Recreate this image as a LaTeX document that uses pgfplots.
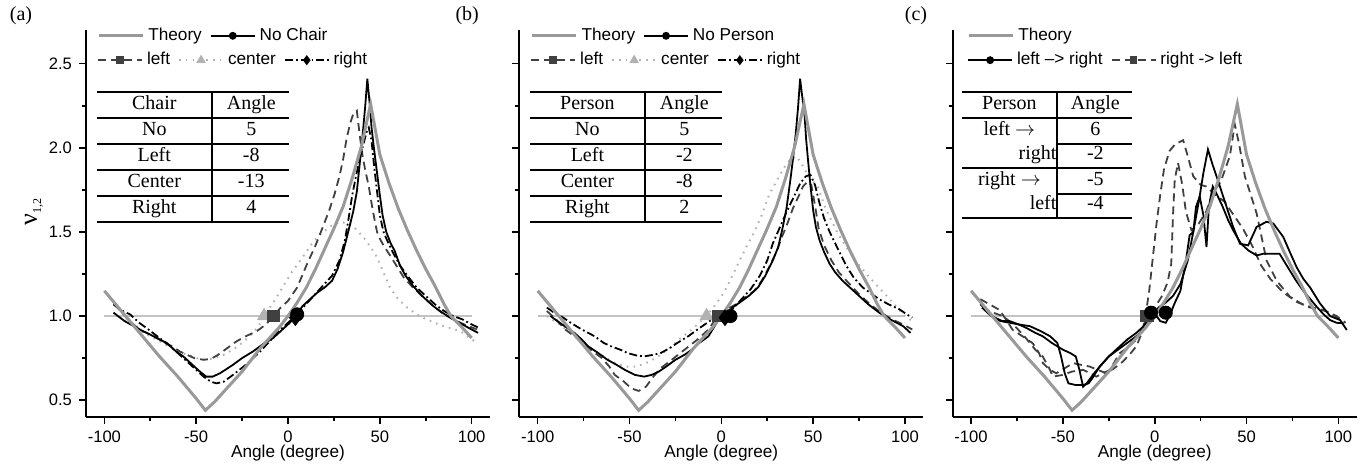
\documentclass[border=0pt]{standalone}
\usepackage{fontspec}
\setmainfont{Liberation Sans}
\newfontfamily\serif{Liberation Serif}
\usepackage{array}
\usepackage{pgfplots}
\pgfplotsset{compat=1.18}

\definecolor{theo}{RGB}{153,153,153}
\definecolor{refl}{RGB}{195,195,195}
\definecolor{dgray}{RGB}{64,64,64}
\definecolor{lgray}{RGB}{178,178,178}

\tikzset{
  sTheo/.style={theo, line width=1.5pt},
  sNo/.style={black, line width=0.9pt},
  sLeft/.style={dgray, line width=0.9pt, dash pattern=on 4pt off 2.5pt},
  sCent/.style={lgray, line width=1pt, dash pattern=on 0.8pt off 2.6pt},
  sRight/.style={black, line width=0.9pt, dash pattern=on 4pt off 1.5pt on 0.9pt off 1.5pt},
}

\pgfplotsset{
  panel/.style={
    width=202pt, height=193.5pt, scale only axis, anchor=south west, clip=false,
    xmin=-110, xmax=110, ymin=0.4, ymax=2.7,
    axis lines=left, axis line style={-, line width=0.9pt},
    xtick={-100,-50,0,50,100}, ytick={0.5,1,1.5,2,2.5},
    minor xtick={-75,-25,25,75}, minor ytick={0.75,1.25,1.75,2.25},
    tick align=outside, major tick length=3.5pt, minor tick length=2pt,
    every tick/.style={black, line width=0.8pt},
    /pgf/number format/assume math mode=true,
    ticklabel style={font=\fontsize{8.3}{10}\selectfont},
    yticklabel style={/pgf/number format/fixed, /pgf/number format/fixed zerofill, /pgf/number format/precision=1},
    xlabel={Angle (degree)},
    every axis x label/.style={at={(axis description cs:0.5,0)}, anchor=center, yshift=-17.9pt, font=\fontsize{8.6}{10}\selectfont},
    legend image code/.code={\draw[mark repeat=2,mark phase=2,##1] plot coordinates {(0pt,0pt) (11pt,0pt) (22pt,0pt)};},
    legend style={draw=none, fill=none, inner sep=0pt, font=\fontsize{8.6}{10}\selectfont,
      nodes={inner sep=2pt}, /tikz/every even column/.append style={column sep=2pt}},
    legend cell align=left,
  },
  ghost/.style={
    width=202pt, height=193.5pt, scale only axis, anchor=south west, hide axis,
    xmin=-110, xmax=110, ymin=0.4, ymax=2.7,
    legend image code/.code={\draw[mark repeat=2,mark phase=2,##1] plot coordinates {(0pt,0pt) (11pt,0pt) (22pt,0pt)};},
    legend style={draw=none, fill=none, inner sep=0pt, font=\fontsize{8.6}{10}\selectfont,
      nodes={inner sep=2pt}, /tikz/every even column/.append style={column sep=2pt}},
    legend cell align=left,
  },
}

\pgfplotstableread{
x y
-100 1.15
-90 1.02
-80 0.89
-70 0.76
-60 0.64
-50 0.51
-45 0.44
-40 0.49
-35 0.55
-30 0.61
-25 0.67
-20 0.74
-15 0.81
-10 0.87
-5 0.93
0 1.00
5 1.08
10 1.17
15 1.28
20 1.40
25 1.52
30 1.65
35 1.82
40 2.01
45 2.26
50 1.96
55 1.79
60 1.64
65 1.51
70 1.39
75 1.28
80 1.18
85 1.07
88.7 1.00
95 0.93
100 0.87
}\theory

\pgfplotstableread{
x y
-100 1
100 1
}\refline

\newcommand\tabfont{\serif\fontsize{10}{12}\selectfont\setlength\arrayrulewidth{1pt}\setlength\tabcolsep{0pt}}

\begin{document}
\begin{tikzpicture}
\useasboundingbox (0,0) rectangle (684pt,232.5pt);

% ---------------- (a) ----------------
\begin{axis}[panel, at={(43pt,24pt)},
  ylabel={\serif\fontsize{13}{14}\selectfont ν\raisebox{-0.35ex}{\fontsize{6}{7}\selectfont 1,2}},
  every axis y label/.style={at={(axis description cs:-0.129,0.53)}, anchor=center, rotate=90},
  legend columns=2,
  legend style={at={(axis description cs:0.027,0.985)}, anchor=west}]
\addplot[refl, line width=1pt, forget plot] table {\refline};
\addplot[sCent, forget plot] table {
x y
-95 1.02
-90 0.98
-85 0.95
-80 0.91
-75 0.88
-70 0.85
-65 0.82
-60 0.79
-55 0.77
-50 0.75
-45 0.74
-40 0.75
-35 0.77
-30 0.8
-25 0.84
-20 0.89
-16 0.94
-13 1.0
-8 1.08
-3 1.17
2 1.26
8 1.35
13 1.43
18 1.49
24 1.54
29 1.56
35 1.54
41 1.47
45 1.41
48.5 1.35
52 1.26
55.5 1.17
60 1.1
65 1.05
70 1.01
75.5 0.98
82 0.95
88 0.93
94 0.91
99 0.87
103 0.84
};
\addplot[sLeft, forget plot] table {
x y
-95 1.07
-91 1.03
-87 0.98
-83 0.94
-79 0.91
-75 0.89
-71 0.87
-67 0.84
-63 0.82
-59 0.79
-55 0.77
-51 0.75
-46 0.74
-42 0.745
-38 0.77
-33 0.81
-28 0.85
-23 0.88
-17 0.91
-12 0.95
-8 1.0
-4 1.05
0 1.09
5 1.17
10 1.3
15 1.42
19 1.53
22.5 1.63
25.5 1.73
28 1.83
30 1.93
32 2.06
34 2.15
35.5 2.2
37.5 2.22
39 2.08
40.5 1.96
42 1.87
44 1.77
45.5 1.67
47 1.58
48.5 1.5
50 1.46
52 1.42
55 1.37
59 1.3
63 1.23
68 1.17
74 1.11
79 1.06
85 1.01
90 0.98
96 0.95
103 0.92
};
\addplot[sRight, forget plot] table {
x y
-95 1.07
-90 1.03
-86 1.01
-81 0.96
-76 0.92
-70 0.87
-64 0.82
-59 0.77
-54 0.72
-50 0.68
-46 0.64
-42 0.61
-39 0.6
-35 0.61
-30 0.65
-23 0.71
-16 0.78
-10 0.85
-5 0.91
0 0.96
4 1.0
9 1.06
14 1.12
19 1.18
24 1.24
28 1.33
31 1.45
33 1.58
35 1.72
37 1.83
39 1.93
41 2.02
43 2.1
44 2.12
45.5 2.04
47 1.88
48.5 1.74
50 1.6
52 1.5
54 1.45
57 1.38
61 1.3
65 1.24
70 1.17
75 1.12
80 1.07
85 1.03
90 1.0
95 0.98
100 0.95
104 0.93
};
\addplot[sNo, forget plot] table {
x y
-95 1.02
-89 0.97
-84 0.94
-79 0.91
-75 0.89
-70 0.86
-66 0.84
-61 0.79
-57 0.76
-52 0.71
-48 0.67
-44.5 0.64
-41 0.64
-37 0.66
-30 0.71
-25 0.75
-19 0.79
-14 0.83
-8 0.87
-3 0.92
1 0.96
4 1.0
8 1.06
12 1.1
16 1.14
20 1.17
24 1.21
27 1.28
30 1.38
33 1.51
35.5 1.62
37.5 1.74
39 1.9
40.5 2.06
42 2.24
43.2 2.41
44.5 2.26
45.5 2.12
47 1.98
48.5 1.85
50 1.72
51.5 1.6
53.5 1.5
56 1.43
58 1.39
61 1.3
64 1.24
68 1.18
73 1.12
79 1.06
84 1.02
90 0.98
95 0.95
100 0.92
103.5 0.9
};
\addplot[sTheo, forget plot] table {\theory};
\addplot[only marks, mark=triangle*, mark size=3.8pt, color=lgray, forget plot] coordinates {(-13,1)};
\addplot[only marks, mark=square*, mark size=2.8pt, color=dgray, forget plot] coordinates {(-8,1)};
\addplot[only marks, mark=*, mark size=3.3pt, color=black, forget plot] coordinates {(5,1.01)};
\addplot[only marks, mark=diamond*, mark size=3.9pt, color=black, forget plot] coordinates {(4,0.99)};
\addlegendimage{sTheo}
\addlegendentry{Theory}
\addlegendimage{sNo, mark=*, mark size=1.5pt}
\addlegendentry{No Chair}
\node[anchor=north west, inner sep=0pt] at (axis description cs:0.027,0.843) {\tabfont
\begin{tabular}{w{c}{57pt}|w{c}{38pt}}
\hline
Chair & Angle\\\hline
No & 5\\\hline
Left & -8\\\hline
Center & -13\\\hline
Right & 4\\\hline
\end{tabular}};
\node[font=\serif\fontsize{10}{12}\selectfont] at (axis description cs:-0.161,1.036) {(a)};
\end{axis}
\begin{axis}[ghost, at={(43pt,24pt)}, legend columns=3,
  legend style={at={(axis description cs:0.027,0.922)}, anchor=west}]
\addlegendimage{sLeft, mark=square*, mark size=1.5pt, mark options={solid}}
\addlegendentry{left}
\addlegendimage{sCent, mark=triangle*, mark size=1.8pt, mark options={solid}}
\addlegendentry{center}
\addlegendimage{sRight, mark=diamond*, mark size=1.8pt, mark options={solid}}
\addlegendentry{right}
\end{axis}

% ---------------- (b) ----------------
\begin{axis}[panel, at={(259.65pt,24pt)}, yticklabels={},
  legend columns=2,
  legend style={at={(axis description cs:0.027,0.985)}, anchor=west}]
\addplot[refl, line width=1pt, forget plot] table {\refline};
\addplot[sCent, forget plot] table {
x y
-95 1.0
-88 0.95
-82 0.9
-76 0.85
-70 0.8
-64 0.76
-58 0.72
-52 0.7
-46 0.7
-39 0.73
-33 0.77
-27 0.82
-22 0.87
-16 0.92
-12 0.96
-8 1.0
-3 1.07
2 1.15
6 1.24
10 1.33
14 1.42
18 1.5
22 1.6
26 1.72
30 1.8
34 1.88
37.5 1.93
41 1.95
44 1.9
47 1.84
50 1.8
53 1.76
56 1.66
59 1.59
63 1.5
68 1.41
73 1.33
79 1.25
84 1.19
90 1.12
95 1.06
100 1.0
104 0.97
};
\addplot[sLeft, forget plot] table {
x y
-95 1.03
-90 0.98
-85 0.92
-80 0.88
-75 0.84
-70 0.79
-65 0.75
-61 0.7
-58 0.65
-53 0.61
-49 0.57
-45 0.555
-41 0.58
-37 0.64
-33 0.69
-27 0.74
-20 0.8
-13 0.86
-7 0.92
-2 1.0
3 1.04
8 1.07
13 1.11
18 1.15
22 1.21
26 1.29
30 1.38
33 1.47
36 1.55
39 1.64
42 1.71
44.5 1.77
47 1.8
49 1.78
51 1.66
53 1.52
56 1.42
60 1.33
64 1.26
69 1.2
75 1.13
81 1.07
87 1.02
93 0.98
99 0.95
104 0.92
};
\addplot[sRight, forget plot] table {
x y
-95 1.05
-91 1.02
-86 0.99
-82 0.96
-76 0.92
-69 0.88
-64 0.84
-60 0.82
-55 0.8
-51 0.78
-46 0.765
-42 0.76
-37 0.77
-33 0.78
-28 0.81
-24 0.84
-18 0.88
-13 0.92
-9 0.95
-5 0.98
2 1.0
6 1.04
11 1.1
16 1.16
21 1.24
25 1.33
28 1.43
32 1.53
36 1.63
40 1.72
43 1.79
46 1.83
48.5 1.84
51 1.78
53.5 1.67
56 1.58
59 1.5
63 1.41
68 1.3
72 1.23
77 1.17
82 1.13
86 1.1
91 1.07
97 1.04
101 1.01
104 0.99
};
\addplot[sNo, forget plot] table {
x y
-93 1.0
-88 0.96
-84 0.93
-80 0.9
-76 0.86
-72.5 0.82
-67 0.78
-62 0.74
-57 0.71
-52.5 0.68
-47 0.65
-42 0.64
-38 0.65
-34 0.67
-30 0.7
-25 0.74
-20 0.77
-16 0.8
-12 0.84
-7 0.88
-2 0.97
2 1.0
6 1.05
10 1.08
15 1.12
20 1.17
24 1.24
28 1.33
31 1.41
33.5 1.53
35.5 1.64
37.5 1.8
39 1.93
40.5 2.08
41.8 2.24
42.9 2.41
44 2.31
45.3 2.2
46.2 2.05
47.2 1.93
48.5 1.78
50 1.63
51.5 1.53
53.5 1.45
56 1.38
59 1.31
62 1.26
66 1.21
70 1.17
75 1.12
80 1.07
86 1.02
92 0.98
99 0.94
103 0.9
};
\addplot[sTheo, forget plot] table {\theory};
\addplot[only marks, mark=triangle*, mark size=3.8pt, color=lgray, forget plot] coordinates {(-8,1)};
\addplot[only marks, mark=square*, mark size=2.8pt, color=dgray, forget plot] coordinates {(-2,1)};
\addplot[only marks, mark=*, mark size=3.3pt, color=black, forget plot] coordinates {(5,1)};
\addplot[only marks, mark=diamond*, mark size=3.9pt, color=black, forget plot] coordinates {(2,0.99)};
\addlegendimage{sTheo}
\addlegendentry{Theory}
\addlegendimage{sNo, mark=*, mark size=1.5pt}
\addlegendentry{No Person}
\node[anchor=north west, inner sep=0pt] at (axis description cs:0.0265,0.843) {\tabfont
\begin{tabular}{w{c}{57pt}|w{c}{38pt}}
\hline
Person & Angle\\\hline
No & 5\\\hline
Left & -2\\\hline
Center & -8\\\hline
Right & 2\\\hline
\end{tabular}};
\node[font=\serif\fontsize{10}{12}\selectfont] at (axis description cs:-0.129,1.036) {(b)};
\end{axis}
\begin{axis}[ghost, at={(259.65pt,24pt)}, legend columns=3,
  legend style={at={(axis description cs:0.0265,0.922)}, anchor=west}]
\addlegendimage{sLeft, mark=square*, mark size=1.5pt, mark options={solid}}
\addlegendentry{left}
\addlegendimage{sCent, mark=triangle*, mark size=1.8pt, mark options={solid}}
\addlegendentry{center}
\addlegendimage{sRight, mark=diamond*, mark size=1.8pt, mark options={solid}}
\addlegendentry{right}
\end{axis}

% ---------------- (c) ----------------
\begin{axis}[panel, at={(476.35pt,24pt)}, yticklabels={},
  legend style={at={(axis description cs:0.035,0.985)}, anchor=west}]
\addplot[refl, line width=1pt, forget plot] table {\refline};
\addplot[sLeft, forget plot] table {
x y
-95 1.1
-90 1.07
-84.5 1.036
-81 0.98
-77.3 0.917
-72 0.88
-66.4 0.838
-63 0.78
-60.9 0.72
-57 0.68
-53.6 0.66
-49 0.69
-44.5 0.72
-40 0.71
-35.5 0.70
-31 0.68
-26.4 0.66
-22 0.69
-17.3 0.73
-13 0.78
-10 0.82
-7 0.9
-5 1.0
-3 1.15
-1 1.35
1 1.55
3 1.72
5 1.87
8 1.98
11 2.02
15.5 2.045
18 1.95
21 1.83
25 1.78
28 1.77
33 1.72
38 1.68
43 1.6
48 1.52
53 1.42
58 1.3
63 1.22
70 1.14
78 1.08
86 1.05
93 1.03
99 1.0
104 0.96
};
\addplot[sLeft, forget plot] table {
x y
-94 1.05
-88 1.02
-82.7 1.0
-77 0.95
-71 0.88
-65 0.8
-61 0.76
-57 0.68
-55.5 0.64
-50 0.65
-45 0.67
-39 0.68
-35 0.66
-31.8 0.64
-28 0.66
-24.5 0.68
-19 0.78
-15 0.81
-10 0.86
-7 0.92
-4 1.0
0 1.05
4 1.12
7 1.2
9 1.31
10 1.61
10.9 1.81
12.7 1.91
15 1.78
17 1.62
20 1.51
24 1.55
28 1.62
31.6 1.73
36 1.8
40.9 1.95
43.6 2.14
46 2.02
49.1 1.83
55.5 1.61
60.9 1.33
66.4 1.21
73.6 1.115
82.7 1.055
91.8 1.036
99 0.996
103 0.95
};
\addplot[sNo, forget plot] table {
x y
-95 1.07
-91 1.03
-87 0.99
-83 0.97
-79 0.97
-74 0.95
-70 0.93
-65 0.9
-61 0.88
-56 0.84
-50 0.8
-46 0.78
-43 0.76
-41 0.68
-39 0.58
-37 0.6
-33 0.66
-29 0.71
-25 0.76
-20 0.81
-15 0.86
-10 0.9
-6 0.94
-2 1.0
2 1.05
6 1.08
10 1.12
14 1.19
18 1.33
21 1.5
24 1.68
26.5 1.85
29 1.99
31.5 1.9
34 1.82
37 1.72
40 1.62
42.7 1.53
46.4 1.43
50.9 1.42
55.5 1.53
60.9 1.56
64.6 1.55
70 1.47
74 1.37
77.3 1.29
81 1.22
84.6 1.17
90 1.075
95.5 1.0
101 0.976
104.6 0.917
};
\addplot[sNo, forget plot] table {
x y
-94 1.05
-89 1.0
-84 0.97
-79 0.96
-74 0.95
-68 0.94
-62 0.91
-57 0.88
-53 0.84
-51 0.76
-49 0.66
-47 0.6
-43 0.59
-39 0.59
-36 0.6
-34 0.63
-30 0.7
-25 0.76
-20 0.8
-15 0.84
-10 0.88
-6 0.92
-3 0.96
1 1.0
3 0.97
6 0.96
8 1.0
11 1.08
14 1.15
17.3 1.35
19 1.48
21 1.5
22.5 1.65
24.5 1.71
26.5 1.6
28.2 1.41
29.5 1.65
31.6 1.77
34 1.72
37 1.65
40 1.57
42.7 1.51
47 1.43
51 1.39
55.5 1.36
59 1.37
63 1.37
68 1.37
73.6 1.27
77 1.21
80.9 1.15
84 1.11
88.2 1.055
92 1.01
95.5 0.976
99 0.96
102.7 0.957
};
\addplot[sTheo, forget plot] table {\theory};
\addplot[only marks, mark=square*, mark size=2.8pt, color=dgray, forget plot] coordinates {(-5,1) (-4,1)};
\addplot[only marks, mark=*, mark size=3.3pt, color=black, forget plot] coordinates {(-2,1.02) (6,1.02)};
\addlegendimage{sTheo}
\addlegendentry{Theory}
\node[anchor=north west, inner sep=0pt] at (axis description cs:0.023,0.843) {\tabfont
\begin{tabular}{w{r}{47pt}|w{c}{37pt}}
\hline
\multicolumn{1}{w{c}{47pt}|}{Person} & Angle\\\hline
\multicolumn{1}{w{c}{47pt}|}{left $\rightarrow$} & 6\\\cline{2-2}
right\hspace{3.5pt} & -2\\\hline
\multicolumn{1}{w{c}{47pt}|}{right $\rightarrow$} & -5\\\cline{2-2}
left\hspace{3.5pt} & -4\\\hline
\end{tabular}};
\node[font=\serif\fontsize{10}{12}\selectfont] at (axis description cs:-0.091,1.036) {(c)};
\end{axis}
\begin{axis}[ghost, at={(476.35pt,24pt)}, legend columns=2,
  legend style={at={(axis description cs:0.035,0.922)}, anchor=west}]
\addlegendimage{sNo, mark=*, mark size=1.5pt}
\addlegendentry{left –> right}
\addlegendimage{sLeft, mark=square*, mark size=1.5pt, mark options={solid}}
\addlegendentry{right -> left}
\end{axis}
\end{tikzpicture}
\end{document}
